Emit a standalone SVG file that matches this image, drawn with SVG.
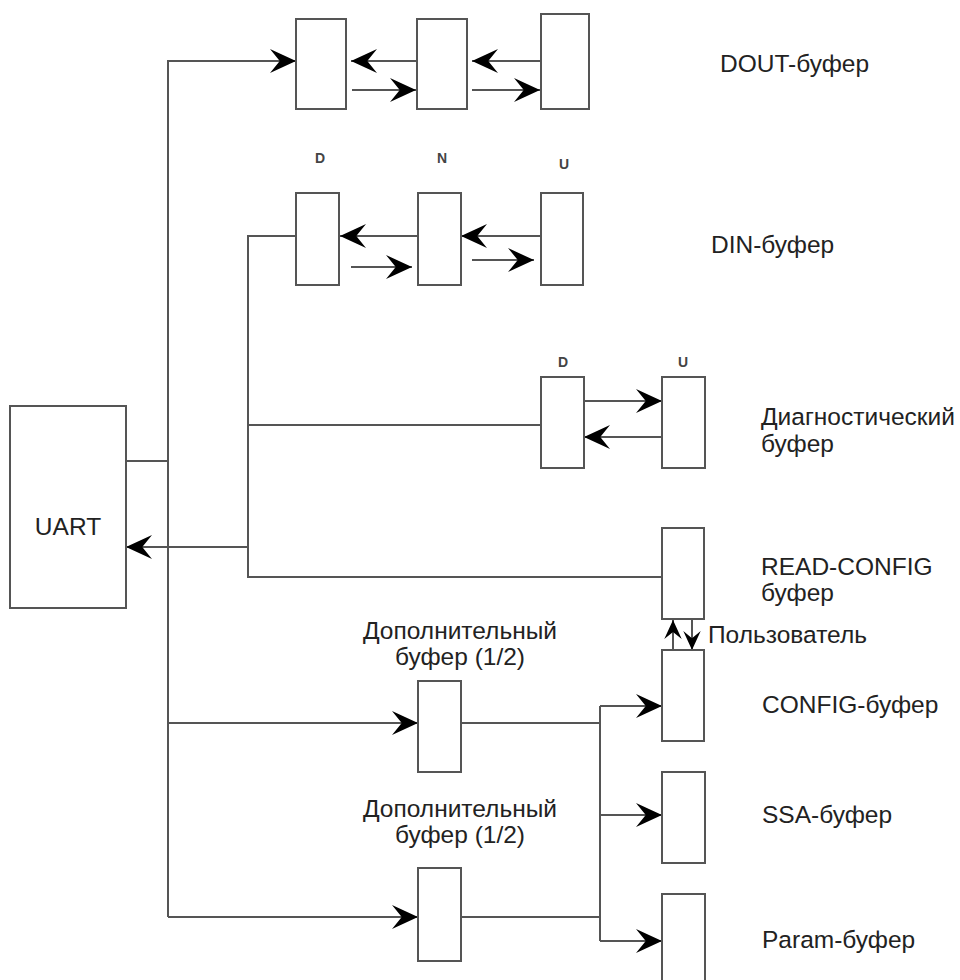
<svg xmlns="http://www.w3.org/2000/svg" width="960" height="980" viewBox="0 0 960 980">
<style>
.box{fill:#fff;stroke:#555;stroke-width:2}
.ln{fill:none;stroke:#555;stroke-width:2}
.ar{marker-end:url(#ah)}
.sa{marker-end:url(#ahs)}
.t{font-family:"Liberation Sans",Arial,sans-serif;font-size:24.5px;fill:#222}
.s{font-family:"Liberation Sans",Arial,sans-serif;font-size:14px;font-weight:bold;fill:#444}
</style>
<defs>
<marker id="ah" viewBox="0 0 24 24" refX="24" refY="12" markerWidth="26" markerHeight="26" markerUnits="userSpaceOnUse" orient="auto">
<path d="M0,1 L24,12 L0,23 L9,12 Z" fill="#000"/>
</marker>
<marker id="ahs" viewBox="0 0 24 24" refX="24" refY="12" markerWidth="19" markerHeight="19" markerUnits="userSpaceOnUse" orient="auto">
<path d="M0,1 L24,12 L0,23 L9,12 Z" fill="#000"/>
</marker>
</defs>
<rect width="960" height="980" fill="#fff"/>
<g id="connectors">
<path class="ln" d="M168,917 V61 H294"/>
<path class="ln ar" d="M168,61 H296"/>
<path class="ln" d="M126,461 H168"/>
<path class="ln ar" d="M416,61 H351"/>
<path class="ln ar" d="M352,90 H416"/>
<path class="ln ar" d="M540,61 H472"/>
<path class="ln ar" d="M472,90 H540"/>
<path class="ln" d="M296,236 H248 V577 H662"/>
<path class="ln ar" d="M418,236 H340"/>
<path class="ln ar" d="M351,267 H412"/>
<path class="ln ar" d="M541,236 H461"/>
<path class="ln ar" d="M472,260 H534"/>
<path class="ln" d="M248,425 H541"/>
<path class="ln ar" d="M582,401 H662"/>
<path class="ln ar" d="M662,437 H584"/>
<path class="ln ar" d="M248,547 H126"/>
<path class="ln sa" d="M673,650 V620"/>
<path class="ln sa" d="M692,619 V650"/>
<path class="ln ar" d="M168,723 H418"/>
<path class="ln ar" d="M168,917 H418"/>
<path class="ln" d="M461,723 H600"/>
<path class="ln" d="M461,917 H600"/>
<path class="ln" d="M600,706 V941"/>
<path class="ln ar" d="M600,706 H662"/>
<path class="ln ar" d="M600,815 H662"/>
<path class="ln ar" d="M600,941 H662"/>
</g>
<g id="uart"><rect class="box" x="10" y="406" width="116" height="202"/><text class="t" x="68" y="535" text-anchor="middle">UART</text></g>
<g id="dout1"><rect class="box" x="296" y="19" width="50" height="90"/></g>
<g id="dout2"><rect class="box" x="417" y="19" width="50" height="90"/></g>
<g id="dout3"><rect class="box" x="541" y="14" width="48" height="95"/></g>
<g id="dout-label"><text class="t" x="720" y="72">DOUT-буфер</text></g>
<g id="din-d"><rect class="box" x="296" y="193" width="43" height="92"/><text class="s" x="320" y="163" text-anchor="middle">D</text></g>
<g id="din-n"><rect class="box" x="418" y="193" width="43" height="92"/><text class="s" x="442" y="163" text-anchor="middle">N</text></g>
<g id="din-u"><rect class="box" x="541" y="193" width="42" height="92"/><text class="s" x="564" y="169" text-anchor="middle">U</text></g>
<g id="din-label"><text class="t" x="711" y="253">DIN-буфер</text></g>
<g id="diag-d"><rect class="box" x="541" y="377" width="43" height="91"/><text class="s" x="563" y="367" text-anchor="middle">D</text></g>
<g id="diag-u"><rect class="box" x="662" y="377" width="43" height="91"/><text class="s" x="683" y="367" text-anchor="middle">U</text></g>
<g id="diag-label"><text class="t" x="761" y="425">Диагностический</text><text class="t" x="761" y="452">буфер</text></g>
<g id="readconfig"><rect class="box" x="662" y="528" width="42" height="91"/><text class="t" x="761" y="575">READ-CONFIG</text><text class="t" x="761" y="601">буфер</text></g>
<g id="user"><text class="t" x="708" y="643">Пользователь</text></g>
<g id="config"><rect class="box" x="662" y="650" width="42" height="91"/><text class="t" x="762" y="713">CONFIG-буфер</text></g>
<g id="ssa"><rect class="box" x="662" y="772" width="43" height="91"/><text class="t" x="762" y="823">SSA-буфер</text></g>
<g id="param"><rect class="box" x="662" y="894" width="43" height="96"/><text class="t" x="762" y="948">Param-буфер</text></g>
<g id="extra1"><rect class="box" x="418" y="681" width="43" height="91"/><text class="t" x="460" y="639" text-anchor="middle">Дополнительный</text><text class="t" x="460" y="665" text-anchor="middle">буфер (1/2)</text></g>
<g id="extra2"><rect class="box" x="418" y="868" width="43" height="93"/><text class="t" x="460" y="817" text-anchor="middle">Дополнительный</text><text class="t" x="460" y="843" text-anchor="middle">буфер (1/2)</text></g>
</svg>
